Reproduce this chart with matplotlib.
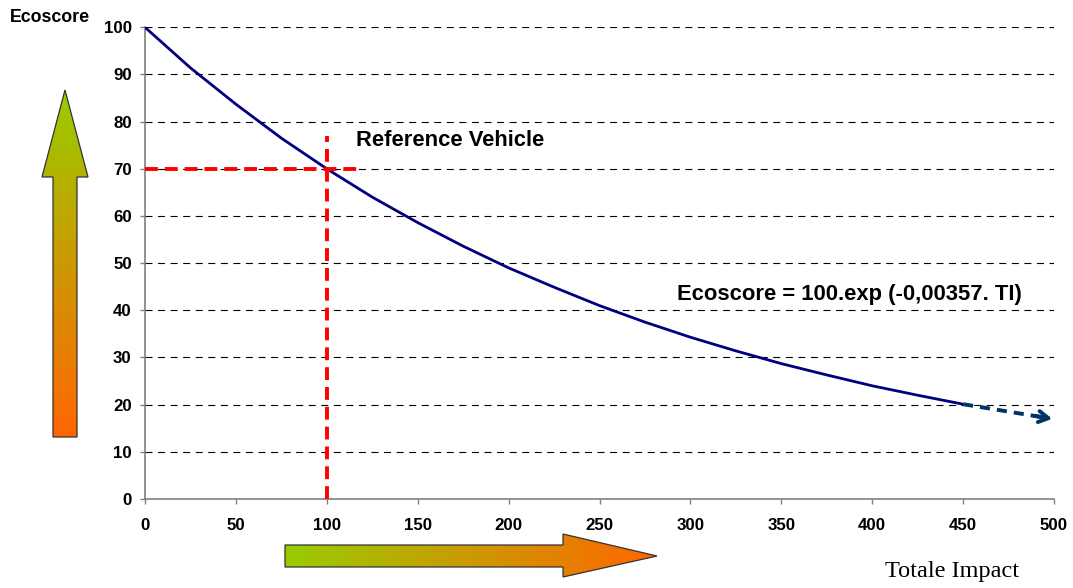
import numpy as np
import matplotlib
matplotlib.use("Agg")
import matplotlib.pyplot as plt
from matplotlib.patches import Polygon
from matplotlib.colors import LinearSegmentedColormap

# ---- data ----
impact = [0, 25, 50, 75, 100, 125, 150, 175, 200, 225, 250, 275, 300, 325, 350, 375, 400, 425, 450]
ecoscore = [100, 91.4, 83.7, 76.5, 70.0, 64.0, 58.6, 53.6, 49.0, 44.9, 41.0, 37.5, 34.3, 31.4, 28.7, 26.3, 24.0, 22.0, 20.1]
extrap_x = [450, 499]
extrap_y = [20.1, 17.0]
ref_x = 100
ref_y = 70
ref_hline_end = 118
ref_vline_end = 77
x_ticks = [0, 50, 100, 150, 200, 250, 300, 350, 400, 450, 500]
y_ticks = [0, 10, 20, 30, 40, 50, 60, 70, 80, 90, 100]

W, H = 1073, 588
fig = plt.figure(figsize=(W / 100, H / 100), dpi=100)
fig.patch.set_facecolor("white")

L, R, T, B = 145, 1054, 27.3, 499
ax = fig.add_axes([L / W, 1 - B / H, (R - L) / W, (B - T) / H])
ax.set_xlim(0, 500)
ax.set_ylim(0, 100)

bold = dict(family="Liberation Sans", weight="bold")

# grid
for y in y_ticks[1:]:
    ax.axhline(y, color="black", lw=0.8, ls=(0, (6.3, 5)), zorder=1)

# curve
ax.plot(impact, ecoscore, color="#000080", lw=2.0, zorder=3, solid_capstyle="butt")
# extrapolation dashed arrow
ax.plot([extrap_x[0], extrap_x[0] + 0.9 * (extrap_x[1] - extrap_x[0])],
        [extrap_y[0], extrap_y[0] + 0.9 * (extrap_y[1] - extrap_y[0])],
        color="#003366", lw=2.8, ls=(0, (2.6, 1.8)), zorder=3)
ax.annotate("", xy=(extrap_x[1], extrap_y[1]),
            xytext=(extrap_x[0] + 0.8 * (extrap_x[1] - extrap_x[0]),
                    extrap_y[0] + 0.8 * (extrap_y[1] - extrap_y[0])),
            arrowprops=dict(arrowstyle="->,head_length=0.7,head_width=0.4", lw=2.8,
                            color="#003366", shrinkA=0, shrinkB=0), zorder=3)

# reference lines
ax.plot([0, ref_hline_end], [ref_y, ref_y], color="#FF0000", lw=2.8,
        ls=(0, (3.3, 1.8)), zorder=4, clip_on=False)
ax.plot([ref_x, ref_x], [0, ref_vline_end], color="#FF0000", lw=2.8,
        ls=(0, (3.3, 1.8)), zorder=4, clip_on=False)

ax.text(116, 76, "Reference Vehicle", fontsize=15.8, va="center", ha="left", **bold)
ax.text(292.5, 43.3, "Ecoscore = 100.exp (-0,00357. TI)", fontsize=15.8,
        va="center", ha="left", **bold)

# axes styling
for s in ["top", "right"]:
    ax.spines[s].set_visible(False)
for s in ["left", "bottom"]:
    ax.spines[s].set_color("#808080")
    ax.spines[s].set_linewidth(1.2)
ax.set_xticks(x_ticks)
ax.set_yticks(y_ticks)
ax.tick_params(direction="out", length=3.5, width=1, color="#808080")
ax.tick_params(axis="x", pad=10)
ax.tick_params(axis="y", pad=6)
for lab in ax.get_xticklabels() + ax.get_yticklabels():
    lab.set_fontfamily("Liberation Sans")
    lab.set_fontweight("bold")
    lab.set_fontsize(12.2)

# overlay in pixel coordinates for decorations
ov = fig.add_axes([0, 0, 1, 1], zorder=-1)
ov.set_xlim(0, W)
ov.set_ylim(H, 0)
ov.axis("off")

cmap = LinearSegmentedColormap.from_list("go", ["#99CC00", "#FF6600"])

# vertical arrow (green top -> orange bottom)
vpts = [(65, 90), (88, 177), (77, 177), (77, 437), (53, 437), (53, 177), (42, 177)]
vpoly = Polygon(vpts, closed=True, facecolor="none", edgecolor="#333333", lw=0.9, zorder=3)
ov.add_patch(vpoly)
grad_v = np.linspace(0, 1, 256).reshape(-1, 1)
im = ov.imshow(grad_v, cmap=cmap, extent=(42, 88, 437, 90), aspect="auto", zorder=2)
im.set_clip_path(vpoly)

# horizontal arrow (green left -> orange right)
hpts = [(285, 545), (563, 545), (563, 534), (657, 556), (563, 577), (563, 567), (285, 567)]
hpoly = Polygon(hpts, closed=True, facecolor="none", edgecolor="#333333", lw=0.9, zorder=3)
ov.add_patch(hpoly)
grad_h = np.linspace(0, 1, 256).reshape(1, -1)
im2 = ov.imshow(grad_h, cmap=cmap, extent=(285, 657, 577, 534), aspect="auto", zorder=2)
im2.set_clip_path(hpoly)

ov.set_xlim(0, W)
ov.set_ylim(H, 0)

fig.text(10 / W, 1 - 17 / H, "Ecoscore", fontsize=12.8, va="center", ha="left", **bold)
fig.text(885 / W, 1 - 572 / H, "Totale Impact", fontsize=17.5, va="center", ha="left",
         family="Liberation Serif")

fig.savefig("out.png", dpi=100)
